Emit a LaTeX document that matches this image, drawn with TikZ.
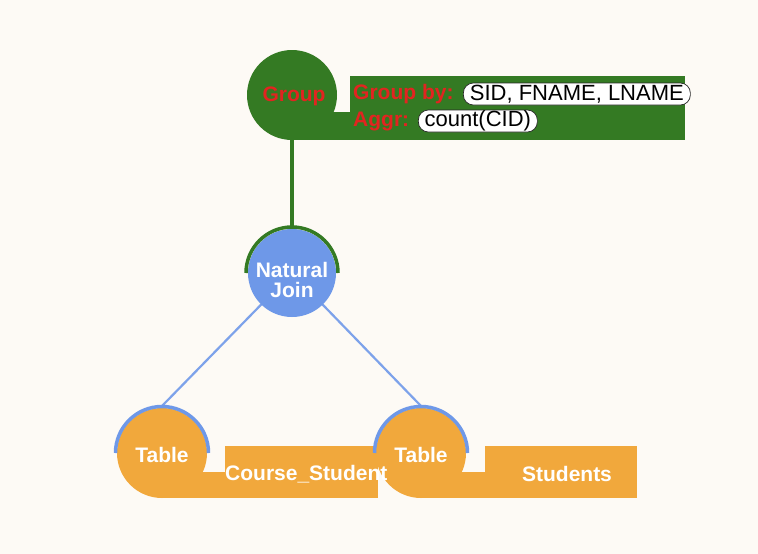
\documentclass[tikz,border=0pt]{standalone}
\usepackage{fontspec}
\setmainfont{Liberation Sans}
\usetikzlibrary{calc}
\definecolor{bgc}{RGB}{253,250,245}
\definecolor{grpg}{RGB}{52,122,35}
\definecolor{jblue}{RGB}{110,152,232}
\definecolor{orng}{RGB}{241,168,60}
\definecolor{rtxt}{RGB}{226,36,32}
\begin{document}
\begin{tikzpicture}[x=1pt,y=-1pt,
  disc/.style={circle, inner sep=0pt, minimum size=90pt},
  btxt/.style={font=\fontsize{21}{20.5}\selectfont\bfseries, text=white, inner sep=0pt, align=center},
  rtx/.style={font=\fontsize{21}{22}\selectfont\bfseries, text=rtxt, inner sep=0pt},
  pill/.style={draw=black!85, fill=white, rounded corners=10pt, line width=0.7pt, inner sep=0pt,
               minimum height=22pt, font=\fontsize{22}{22}\selectfont},
  gline/.style={draw=grpg, line width=4pt},
  garc/.style={draw=grpg, line width=3.5pt},
  barc/.style={draw=jblue, line width=3.5pt},
  bline/.style={draw=jblue!90, line width=2.2pt}]
\fill[bgc] (0,0) rectangle (758,554);
\useasboundingbox (0,0) rectangle (758,554);

% coordinates
\coordinate (njtop) at (292,226);
\coordinate (t1top) at (162,406);
\coordinate (t2top) at (421,406);

% ---- Group operator
\node[disc, fill=grpg] (grp) at (292,95) {};
\fill[grpg] (292,112) rectangle (685,140);
\fill[grpg] (350,76) rectangle (685,140);

% ---- connectors
\draw[gline] (grp.south) -- (njtop);

% ---- Natural Join
\node[disc, minimum size=88pt] (nj) at (292,273) {};
\draw[bline] (nj.center) -- (t1top);
\draw[bline] (nj.center) -- (t2top);
\fill[jblue] (nj.center) circle (44);
\draw[garc] (246,273) arc[start angle=180, end angle=360, radius=46];

% ---- Table 1
\node[disc, fill=orng] (t1) at (162,453) {};
\fill[orng] (162,472) rectangle (378,498);
\fill[orng] (225,446) rectangle (378,498);
\draw[barc] (115.5,453) arc[start angle=180, end angle=360, radius=46.5];

% ---- Table 2
\node[disc, fill=orng] (t2) at (421,453) {};
\fill[orng] (421,472) rectangle (637,498);
\fill[orng] (485,446) rectangle (637,498);
\draw[barc] (374.5,453) arc[start angle=180, end angle=360, radius=46.5];

% ---- texts
\node[rtx] (grpl) at (294,96) {Group};
\node[rtx, anchor=west] (gbl) at (353,94) {Group by:};
\node[pill, anchor=west, minimum width=227pt] (gbv) at (463,94) {SID, FNAME, LNAME};
\node[rtx, anchor=west] (agl) at (353,121) {Aggr:};
\node[pill, anchor=west, minimum width=119pt] (agv) at (418,121) {count(CID)};

\node[btxt] (njl) at (292,280) {Natural\\Join};
\node[btxt] (t1l) at (162,455) {Table};
\node[btxt, anchor=west] (t1n) at (225,474) {Course\_Student};
\node[btxt] (t2l) at (421,455) {Table};
\node[btxt] (t2n) at (567,474) {Students};
\end{tikzpicture}
\end{document}
